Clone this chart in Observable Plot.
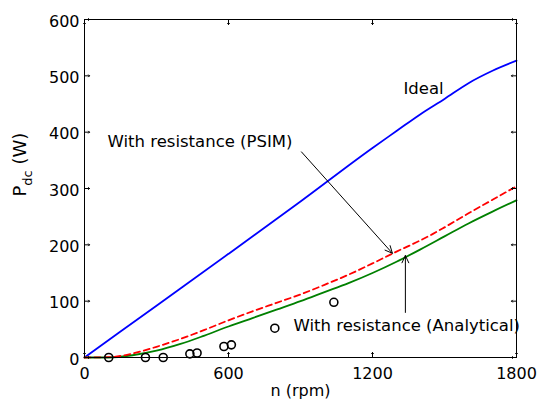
<!DOCTYPE html>
<html><head><meta charset="utf-8">
<script src="https://cdn.jsdelivr.net/npm/d3@7"></script>
<script src="https://cdn.jsdelivr.net/npm/@observablehq/plot@0.6"></script>
<style>html,body{margin:0;padding:0;background:#fff} svg{display:block}</style>
</head><body><div id="chart"></div>
<script>
const xTicks = [0, 600, 1200, 1800];
const yTicks = [0, 100, 200, 300, 400, 500, 600];

const idealRpm = [0, 300, 600, 900, 1200, 1300, 1400, 1500, 1600, 1700, 1800];
const idealW   = [0, 92, 184, 277, 372, 402, 432, 459, 487, 509, 527];

const psimRpm = [0, 100, 200, 300, 400, 500, 600, 700, 800, 900, 1000, 1100, 1200, 1300, 1400, 1450, 1500, 1600, 1700, 1800];
const psimW   = [0, 0.5, 7, 19, 33, 49, 66, 82, 97, 112, 129, 147, 167, 188, 208, 219, 231, 256, 280, 304];

const analRpm = [0, 100, 200, 300, 400, 500, 600, 700, 800, 900, 1000, 1100, 1200, 1300, 1400, 1500, 1600, 1700, 1800];
const analW   = [0, 0, 4, 12, 24, 39, 55, 70, 85, 100, 116, 132, 150, 170, 192, 215, 238, 259, 279];

const measRpm = [101, 254, 328, 439, 469, 581, 612, 793, 1039];
const measW   = [0, 0, 0, 6.5, 8, 19.5, 22.5, 52, 98];

const labelTexts = ["Ideal", "With resistance (PSIM)", "With resistance (Analytical)"];
const labelRpm = [1329, 96, 871];
const labelW = [477.5, 383.5, 57];

const arrowFromRpm = [904, 1337];
const arrowFromW = [365, 80];
const arrowToRpm = [1283, 1337];
const arrowToW = [185, 181];

const xLabel = "n (rpm)";
const yLabel = "P";

const toPts = (xs, ys) => xs.map((x, i) => ({x, y: ys[i]}));
const ideal = toPts(idealRpm, idealW);
const psim = toPts(psimRpm, psimW);
const anal = toPts(analRpm, analW);
const meas = toPts(measRpm, measW);
const labels = labelTexts.map((t, i) => ({t, x: labelRpm[i], y: labelW[i]}));
const arrows = arrowFromRpm.map((x1, i) => ({x1, y1: arrowFromW[i], x2: arrowToRpm[i], y2: arrowToW[i]}));

const tickOpts = {length: 5, anchor: "start", stroke: "black", strokeWidth: 1};

const plot = Plot.plot({
  width: 544, height: 404,
  marginLeft: 84, marginRight: 28, marginTop: 19, marginBottom: 47,
  style: {fontFamily: "DejaVu Sans", fontSize: "16px", background: "white", color: "black", overflow: "visible"},
  x: {domain: [0, 1800]},
  y: {domain: [0, 600]},
  marks: [
    Plot.line(ideal, {x: "x", y: "y", stroke: "#0000ff", strokeWidth: 1.8, curve: "monotone-x"}),
    Plot.line(anal, {x: "x", y: "y", stroke: "#008000", strokeWidth: 1.8, curve: "monotone-x"}),
    Plot.line(psim, {x: "x", y: "y", stroke: "#ff0000", strokeWidth: 1.8, strokeDasharray: "6,4", curve: "monotone-x"}),
    Plot.dot(meas, {x: "x", y: "y", r: 4, stroke: "black", strokeWidth: 1.6, fill: "none"}),
    Plot.arrow(arrows, {x1: "x1", y1: "y1", x2: "x2", y2: "y2", stroke: "black", strokeWidth: 1, headLength: 12, headAngle: 50}),
    Plot.text(labels, {x: "x", y: "y", text: "t", textAnchor: "start", fill: "black", fontSize: 16.5}),
    Plot.frame({stroke: "black", strokeWidth: 1}),
    Plot.vector(xTicks, {x: d => d, frameAnchor: "bottom", rotate: 0, ...tickOpts}),
    Plot.vector(xTicks, {x: d => d, frameAnchor: "top", rotate: 180, ...tickOpts}),
    Plot.vector(yTicks, {y: d => d, frameAnchor: "left", rotate: 90, ...tickOpts}),
    Plot.vector(yTicks, {y: d => d, frameAnchor: "right", rotate: -90, ...tickOpts}),
    Plot.axisX(xTicks, {anchor: "bottom", tickSize: 0, tickPadding: 10, label: null, fill: "black", tickFormat: d => String(d)}),
    Plot.axisY(yTicks, {anchor: "left", tickSize: 0, tickPadding: 5, dy: 2, label: null, fill: "black", tickFormat: d => String(d)}),
    Plot.text([xLabel], {frameAnchor: "bottom", dy: 38, text: d => d, fill: "black"}),
    Plot.text([yLabel], {frameAnchor: "left", dx: -64, dy: 8, rotate: -90, text: d => d, fill: "black", fontSize: 18, className: "ylab"})
  ]
});
document.getElementById("chart").appendChild(plot);
const yt = plot.querySelector(".ylab text");
if (yt) {
  yt.textContent = "";
  const ns = "http://www.w3.org/2000/svg";
  const t1 = document.createElementNS(ns, "tspan"); t1.textContent = "P";
  const t2 = document.createElementNS(ns, "tspan"); t2.textContent = "dc"; t2.setAttribute("dy", "6"); t2.setAttribute("font-size", "13");
  const t3 = document.createElementNS(ns, "tspan"); t3.textContent = "\u00a0(W)"; t3.setAttribute("dy", "-6");
  yt.append(t1, t2, t3);
}
</script>
</body></html>
